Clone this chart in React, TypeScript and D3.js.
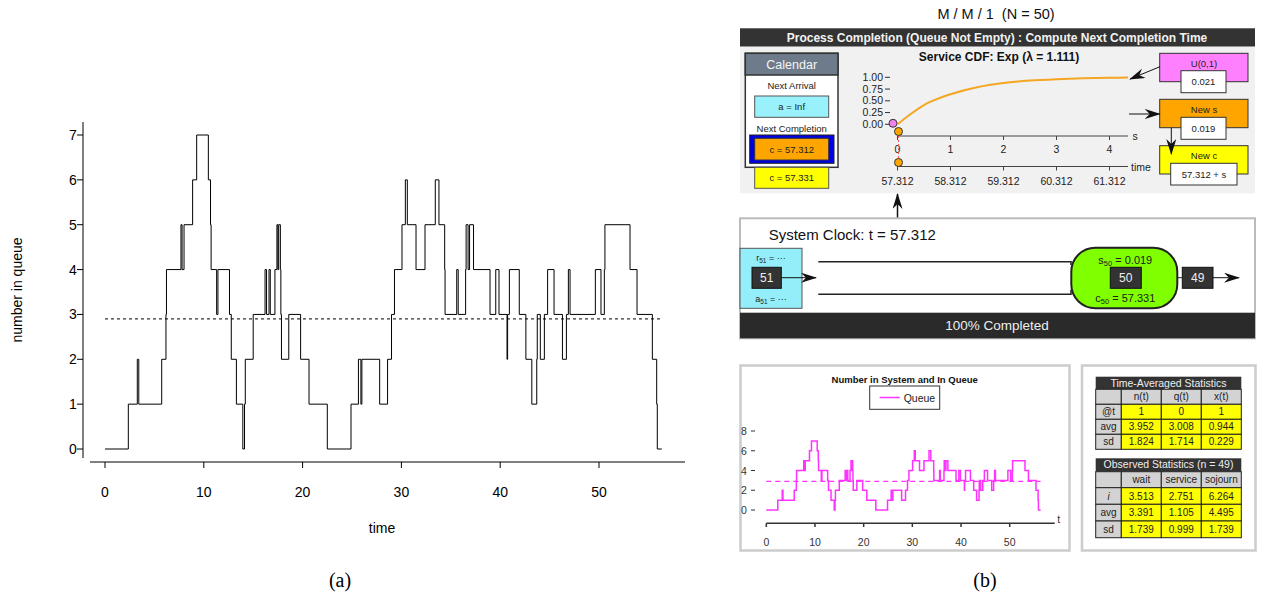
import * as d3 from 'd3';

// queue length step data (time of change, new count)
const queueTimes = [
  0, 2.36, 3.27, 3.42, 5.74, 6.17, 6.22, 7.69, 7.8, 8.0, 8.87, 9.28, 10.46, 10.68, 10.74,
  11.3, 11.43, 12.6, 12.78, 13.3, 13.95, 14.12, 14.2, 15.0, 16.2, 16.35, 16.6, 16.73, 17.2,
  17.4, 17.5, 17.58, 17.75, 17.8, 17.86, 18.6, 19.8, 20.65, 22.5, 24.9, 25.65, 25.9, 26.0,
  27.8, 28.6, 29.0, 29.3, 30.06, 30.4, 30.6, 31.48, 32.39, 33.43, 33.8, 34.38, 34.42, 35.6,
  35.75, 36.5, 36.55, 36.75, 36.9, 37.3, 38.97, 39.55, 39.88, 40.69, 40.75, 40.93, 41.93,
  42.6, 43.2, 43.7, 43.75, 44.06, 44.47, 44.8, 45.45, 46.3, 46.7, 46.9, 47.07, 49.63, 50.2,
  50.54, 50.6, 53.14, 53.85, 55.4, 55.84, 55.9,
];
const queueCounts = [
  0, 1, 2, 1, 2, 3, 4, 5, 4, 5, 6, 7, 6, 5, 4,
  3, 4, 3, 2, 1, 0, 1, 2, 3, 4, 3, 4, 3, 4,
  5, 4, 5, 4, 3, 2, 3, 2, 1, 0, 1, 2, 1, 2,
  1, 2, 3, 4, 5, 6, 5, 4, 5, 6, 5, 4, 3, 4,
  3, 4, 5, 4, 5, 4, 3, 4, 3, 2, 3, 4, 3,
  2, 1, 2, 3, 2, 3, 4, 3, 2, 3, 4, 3, 4, 3,
  4, 5, 4, 3, 2, 1, 0,
];
const queueEnd = 56.35;
const queueMean = 2.9;
const timeTicks = [0, 10, 20, 30, 40, 50];
const countTicks = [0, 1, 2, 3, 4, 5, 6, 7];
const smallCountTicks = [0, 2, 4, 6, 8];

// service cdf
const cdfS = [0, 0.25, 0.5, 0.75, 1, 1.5, 2, 2.5, 3, 3.5, 4, 4.35];
const cdfU = [0, 0.22, 0.41, 0.54, 0.64, 0.79, 0.88, 0.93, 0.96, 0.98, 0.99, 0.995];
const cdfTicks = [0, 0.25, 0.5, 0.75, 1];
const sTicks = [0, 1, 2, 3, 4];
const clockLabels = ['57.312', '58.312', '59.312', '60.312', '61.312'];
const uDraw = 0.021;
const sDraw = 0.019;

// statistics tables
const timeAvgCols = ['n(t)', 'q(t)', 'x(t)'];
const timeAvgRows = ['@t', 'avg', 'sd'];
const timeAvgVals = [
  ['1', '0', '1'],
  ['3.952', '3.008', '0.944'],
  ['1.824', '1.714', '0.229'],
];
const obsCols = ['wait', 'service', 'sojourn'];
const obsRows = ['i', 'avg', 'sd'];
const obsVals = [
  ['3.513', '2.751', '6.264'],
  ['3.391', '1.105', '4.495'],
  ['1.739', '0.999', '1.739'],
];

const SANS = 'Liberation Sans, Arial, sans-serif';

const stepPts: [number, number][] = queueTimes
  .map((t, i) => [t, queueCounts[i]] as [number, number])
  .concat([[queueEnd, queueCounts[queueCounts.length - 1]]]);

function Table({ title, cols, rows, vals, rowY }: any) {
  const colX = [1095.7, 1121.3, 1161.3, 1201.3, 1241.3];
  const x0 = colX[0];
  const x1 = colX[colX.length - 1];
  const cell = (x: number, y: number, w: number, h: number, fill: string, text: string, key: string, italic = false) => (
    <g key={key}>
      <rect x={x} y={y} width={w} height={h} fill={fill} stroke="#222" strokeWidth={1} />
      <text x={x + w / 2} y={y + h / 2 + 3.5} textAnchor="middle" fontSize={10} fontStyle={italic ? 'italic' : 'normal'} fill="#222">
        {text}
      </text>
    </g>
  );
  return (
    <g fontFamily={SANS}>
      <rect x={x0} y={rowY[0]} width={x1 - x0} height={rowY[1] - rowY[0]} fill="#333" />
      <text x={(x0 + x1) / 2} y={rowY[0] + 10} textAnchor="middle" fontSize={10.5} fill="#eee">{title}</text>
      {cell(colX[0], rowY[1], colX[1] - colX[0], rowY[2] - rowY[1], '#d3d3d3', '', 'h0')}
      {cols.map((c: string, j: number) => cell(colX[j + 1], rowY[1], colX[j + 2] - colX[j + 1], rowY[2] - rowY[1], '#d3d3d3', c, 'h' + (j + 1)))}
      {rows.map((r: string, i: number) => (
        <g key={r}>
          {cell(colX[0], rowY[i + 2], colX[1] - colX[0], rowY[i + 3] - rowY[i + 2], '#d3d3d3', r, 'r' + i, r === 'i')}
          {vals[i].map((v: string, j: number) =>
            cell(colX[j + 1], rowY[i + 2], colX[j + 2] - colX[j + 1], rowY[i + 3] - rowY[i + 2], '#ffff00', v, 'c' + i + j)
          )}
        </g>
      ))}
    </g>
  );
}

export default function App() {
  // (a) main plot
  const xA = d3.scaleLinear().domain([0, 50]).range([105, 599]);
  const yA = d3.scaleLinear().domain([0, 7]).range([449, 135]);
  const stepA = d3
    .line<[number, number]>()
    .x((d) => xA(d[0]))
    .y((d) => yA(d[1]))
    .curve(d3.curveStepAfter);

  // small queue plot
  const xB = d3.scaleLinear().domain([0, 50]).range([766.3, 1009.7]);
  const yB = d3.scaleLinear().domain([0, 8]).range([510, 431]);
  const stepB = d3
    .line<[number, number]>()
    .x((d) => xB(d[0]))
    .y((d) => yB(d[1]))
    .curve(d3.curveStepAfter);

  // cdf plot
  const sX = d3.scaleLinear().domain([0, 4]).range([897.5, 1109.5]);
  const uY = d3.scaleLinear().domain([0, 1]).range([124.3, 77.3]);
  const cdfLine = d3
    .line<number>()
    .x((d, i) => sX(cdfS[i]))
    .y((d) => uY(d))
    .curve(d3.curveMonotoneX);

  const sAxisY = 136;
  const tAxisY = 166.5;

  return (
    <svg width={1262} height={602} style={{ position: 'absolute', left: 0, top: 0 }} fontFamily={SANS}>
      <defs>
        <marker id="arr" viewBox="0 0 16 10" refX="15" refY="5" markerWidth="16" markerHeight="10" orient="auto" markerUnits="userSpaceOnUse">
          <path d="M0,0 L16,5 L0,10 L5,5 Z" fill="#111" />
        </marker>
      </defs>
      <rect width={1262} height={602} fill="#fff" />

      {/* ---------- (a) ---------- */}
      <g>
        <line x1={83} x2={83} y1={122} y2={458} stroke="#000" />
        {countTicks.map((t) => (
          <g key={t}>
            <line x1={77} x2={83} y1={yA(t)} y2={yA(t)} stroke="#000" />
            <text x={73} y={yA(t) + 5} textAnchor="middle" fontSize={14}>{t}</text>
          </g>
        ))}
        <line x1={90} x2={685} y1={462} y2={462} stroke="#000" />
        {timeTicks.map((t) => (
          <g key={t}>
            <line x1={xA(t)} x2={xA(t)} y1={462} y2={468} stroke="#000" />
            <text x={xA(t)} y={497} textAnchor="middle" fontSize={14}>{t}</text>
          </g>
        ))}
        <text x={382} y={533} textAnchor="middle" fontSize={14}>time</text>
        <text transform="translate(22,290) rotate(-90)" textAnchor="middle" fontSize={14}>number in queue</text>
        <path d={stepA(stepPts) ?? ''} fill="none" stroke="#000" strokeWidth={1} />
        <line x1={xA(0)} x2={xA(queueEnd)} y1={yA(queueMean)} y2={yA(queueMean)} stroke="#000" strokeDasharray="3,3" />
        <text x={340} y={587} textAnchor="middle" fontSize={20} fontFamily="Liberation Serif, serif">(a)</text>
      </g>

      {/* ---------- (b) ---------- */}
      <text x={996} y={19} textAnchor="middle" fontSize={14.5} fill="#111">{'M / M / 1\u00a0\u00a0(N = 50)'}</text>
      <rect x={740} y={28.3} width={515} height={18.4} fill="#333" />
      <text x={997} y={41.5} textAnchor="middle" fontSize={12} fontWeight="bold" fill="#f2f2f2">
        Process Completion (Queue Not Empty) : Compute Next Completion Time
      </text>
      <rect x={740} y={46.7} width={515} height={146.6} fill="#f1f1f1" />

      {/* calendar */}
      <rect x={745.3} y={53.3} width={92.7} height={114} fill="#fff" stroke="#333" strokeWidth={1.5} />
      <rect x={745.3} y={53.3} width={92.7} height={21.7} fill="#6e7b8b" stroke="#333" strokeWidth={1.5} />
      <text x={791.7} y={68.5} textAnchor="middle" fontSize={12.5} fill="#f4f4f4">Calendar</text>
      <text x={791.7} y={89} textAnchor="middle" fontSize={9.5} fill="#222">Next Arrival</text>
      <rect x={754.7} y={96} width={74} height={21.3} fill="#99f2fb" stroke="#555" />
      <text x={791.7} y={110} textAnchor="middle" fontSize={9.5} fill="#222">a = Inf</text>
      <text x={791.7} y={132} textAnchor="middle" fontSize={9.5} fill="#222">Next Completion</text>
      <rect x={749.7} y={135} width={84.3} height={28.3} fill="#0000e6" stroke="#222" />
      <rect x={754.7} y={138.3} width={74} height={21.7} fill="#ffa500" stroke="#333" />
      <text x={791.7} y={152.5} textAnchor="middle" fontSize={9.5} fill="#222">c = 57.312</text>
      <rect x={754.7} y={167.3} width={74} height={21} fill="#ffff00" stroke="#555" />
      <text x={791.7} y={181.3} textAnchor="middle" fontSize={9.5} fill="#222">c = 57.331</text>

      {/* service cdf */}
      <text x={999} y={61} textAnchor="middle" fontSize={12} fontWeight="bold" fill="#111">Service CDF: Exp (λ = 1.111)</text>
      {cdfTicks.map((t) => (
        <g key={t}>
          <line x1={885} x2={890} y1={uY(t)} y2={uY(t)} stroke="#333" />
          <text x={883} y={uY(t) + 3.5} textAnchor="end" fontSize={10.5} fill="#222">{t.toFixed(2)}</text>
        </g>
      ))}
      <path d={cdfLine(cdfU) ?? ''} fill="none" stroke="#f5a623" strokeWidth={2} />
      <line x1={sX(0)} x2={1128} y1={sAxisY} y2={sAxisY} stroke="#444" />
      {sTicks.map((t, i) => (
        <g key={t}>
          <line x1={sX(t)} x2={sX(t)} y1={sAxisY} y2={sAxisY + 4} stroke="#444" />
          <text x={sX(t)} y={153} textAnchor="middle" fontSize={10.5} fill="#222">{t}</text>
          <line x1={sX(t)} x2={sX(t)} y1={tAxisY} y2={tAxisY + 4} stroke="#444" />
          <text x={sX(t)} y={184.5} textAnchor="middle" fontSize={10.5} fill="#222">{clockLabels[i]}</text>
        </g>
      ))}
      <text x={1135} y={140} textAnchor="middle" fontSize={10.5} fill="#222">s</text>
      <line x1={sX(0)} x2={1128} y1={tAxisY} y2={tAxisY} stroke="#444" />
      <text x={1141} y={171} textAnchor="middle" fontSize={10.5} fill="#222">time</text>
      <line x1={sX(sDraw)} x2={sX(sDraw)} y1={sAxisY} y2={158} stroke="#e55" strokeDasharray="2,2" />
      <circle cx={sX(0) - 4.5} cy={uY(uDraw)} r={4} fill="#ee82ee" stroke="#333" />
      <circle cx={sX(sDraw)} cy={sAxisY - 4.5} r={4} fill="#ffa500" stroke="#333" />
      <circle cx={sX(sDraw)} cy={tAxisY - 4} r={4} fill="#ffa500" stroke="#333" />

      {/* right-side boxes */}
      <rect x={1159.7} y={53.3} width={88.3} height={28.4} fill="#ff80ff" stroke="#333" />
      <text x={1204} y={66.5} textAnchor="middle" fontSize={9.5} fill="#222">U(0,1)</text>
      <rect x={1181} y={70.7} width={45} height={22} fill="#fff" stroke="#333" />
      <text x={1203.5} y={85} textAnchor="middle" fontSize={9.5} fill="#222">{uDraw.toFixed(3)}</text>
      <line x1={1160} y1={66.7} x2={1130} y2={79} stroke="#111" markerEnd="url(#arr)" />

      <rect x={1159.7} y={99.3} width={88.3} height={28.4} fill="#ffa500" stroke="#333" />
      <text x={1204} y={112.5} textAnchor="middle" fontSize={9.5} fill="#222">New s</text>
      <rect x={1181} y={117.3} width={45} height={22} fill="#fff" stroke="#333" />
      <text x={1203.5} y={131.5} textAnchor="middle" fontSize={9.5} fill="#222">{sDraw.toFixed(3)}</text>
      <line x1={1129} y1={114} x2={1159.7} y2={114} stroke="#111" markerEnd="url(#arr)" />

      <rect x={1159.7} y={145.7} width={88.3} height={28.3} fill="#ffff00" stroke="#333" />
      <text x={1204} y={159} textAnchor="middle" fontSize={9.5} fill="#222">New c</text>
      <rect x={1170.7} y={163.3} width={66.3} height={21.7} fill="#fff" stroke="#333" />
      <text x={1204} y={177.5} textAnchor="middle" fontSize={9.5} fill="#222">57.312 + s</text>
      <line x1={1171.3} y1={127.7} x2={1171.3} y2={154} stroke="#111" markerEnd="url(#arr)" />

      {/* clock arrow */}
      <line x1={897.5} y1={224} x2={897.5} y2={194} stroke="#111" strokeWidth={1.5} markerEnd="url(#arr)" />

      {/* system panel */}
      <rect x={740} y={218.3} width={515} height={120} fill="#fff" stroke="#bbb" strokeWidth={2} />
      <text x={768.7} y={240} fontSize={15} fill="#111">System Clock: t = 57.312</text>
      <rect x={740} y={248.3} width={62} height={60} fill="#94eefa" stroke="#555" />
      <text x={771} y={261} textAnchor="middle" fontSize={9} fill="#222">
        r<tspan fontSize={6.5} dy={2}>51</tspan><tspan dy={-2}> = ···</tspan>
      </text>
      <rect x={752} y={267.3} width={29.3} height={21} fill="#333" stroke="#111" />
      <text x={766.7} y={282} textAnchor="middle" fontSize={12} fill="#eee">51</text>
      <text x={771} y={302} textAnchor="middle" fontSize={9} fill="#222">
        a<tspan fontSize={6.5} dy={2}>51</tspan><tspan dy={-2}> = ···</tspan>
      </text>
      <line x1={781.3} y1={277.7} x2={816} y2={277.7} stroke="#111" markerEnd="url(#arr)" />

      <path d="M818.3,261.7 H1071 V265" fill="none" stroke="#222" strokeWidth={1.5} />
      <path d="M818.3,294.3 H1071 V290" fill="none" stroke="#222" strokeWidth={1.5} />

      <rect x={1071.3} y={247.7} width={106} height={60.6} rx={24} ry={24} fill="#7fff00" stroke="#222" strokeWidth={2} />
      <text x={1125.3} y={263.5} textAnchor="middle" fontSize={11} fill="#222">
        s<tspan fontSize={7.5} dy={2}>50</tspan><tspan dy={-2}> = 0.019</tspan>
      </text>
      <rect x={1110.3} y={267.3} width={31} height={21} fill="#333" stroke="#111" />
      <text x={1125.8} y={282} textAnchor="middle" fontSize={12} fill="#eee">50</text>
      <text x={1125.3} y={302} textAnchor="middle" fontSize={11} fill="#222">
        c<tspan fontSize={7.5} dy={2}>50</tspan><tspan dy={-2}> = 57.331</tspan>
      </text>
      <line x1={1177.3} y1={277.7} x2={1182.3} y2={277.7} stroke="#222" />
      <rect x={1182.3} y={267.3} width={30.7} height={21} fill="#333" stroke="#111" />
      <text x={1197.7} y={282} textAnchor="middle" fontSize={12} fill="#eee">49</text>
      <line x1={1213} y1={277.7} x2={1239} y2={277.7} stroke="#111" markerEnd="url(#arr)" />

      <rect x={740} y={312.7} width={515} height={25.6} fill="#2a2a2a" />
      <text x={997} y={330} textAnchor="middle" fontSize={13.5} fill="#eee">100% Completed</text>

      {/* small queue plot */}
      <rect x={740.5} y={365.5} width={329} height={185} fill="#fff" stroke="#ccc" strokeWidth={2.5} />
      <text x={904.7} y={382.5} textAnchor="middle" fontSize={9.5} fontWeight="bold" fill="#111">Number in System and In Queue</text>
      <rect x={869.7} y={386} width={70} height={23.3} fill="#fff" stroke="#333" />
      <line x1={879.7} x2={899.7} y1={397.5} y2={397.5} stroke="#ff33ff" strokeWidth={1.5} />
      <text x={903.7} y={401.5} fontSize={10.5} fill="#222">Queue</text>
      {smallCountTicks.map((t) => (
        <g key={t}>
          <text x={744} y={yB(t) + 4} textAnchor="middle" fontSize={10.5} fill="#333">{t}</text>
          <line x1={751} x2={755} y1={yB(t)} y2={yB(t)} stroke="#333" />
        </g>
      ))}
      <line x1={766.3} x2={1054.7} y1={523.3} y2={523.3} stroke="#333" strokeWidth={1.5} />
      {timeTicks.map((t) => (
        <g key={t}>
          <line x1={xB(t)} x2={xB(t)} y1={523.3} y2={527} stroke="#333" strokeWidth={1.5} />
          <text x={xB(t)} y={545.5} textAnchor="middle" fontSize={10.5} fill="#333">{t}</text>
        </g>
      ))}
      <text x={1058.7} y={523} textAnchor="middle" fontSize={10.5} fill="#333">t</text>
      <path d={stepB(stepPts) ?? ''} fill="none" stroke="#ff33ff" strokeWidth={1.5} />
      <line x1={xB(0)} x2={xB(queueEnd)} y1={yB(queueMean)} y2={yB(queueMean)} stroke="#ff33ff" strokeWidth={1.2} strokeDasharray="5,4" />

      {/* stats panel */}
      <rect x={1082} y={365.5} width={173.5} height={185} fill="#fff" stroke="#ccc" strokeWidth={2.5} />
      <Table title="Time-Averaged Statistics" cols={timeAvgCols} rows={timeAvgRows} vals={timeAvgVals} rowY={[376.7, 389.3, 404.3, 419.3, 434.3, 449.3]} />
      <Table title="Observed Statistics (n = 49)" cols={obsCols} rows={obsRows} vals={obsVals} rowY={[458.3, 471.7, 487.7, 504.3, 521, 537.7]} />

      <text x={985} y={587} textAnchor="middle" fontSize={20} fontFamily="Liberation Serif, serif">(b)</text>
    </svg>
  );
}
